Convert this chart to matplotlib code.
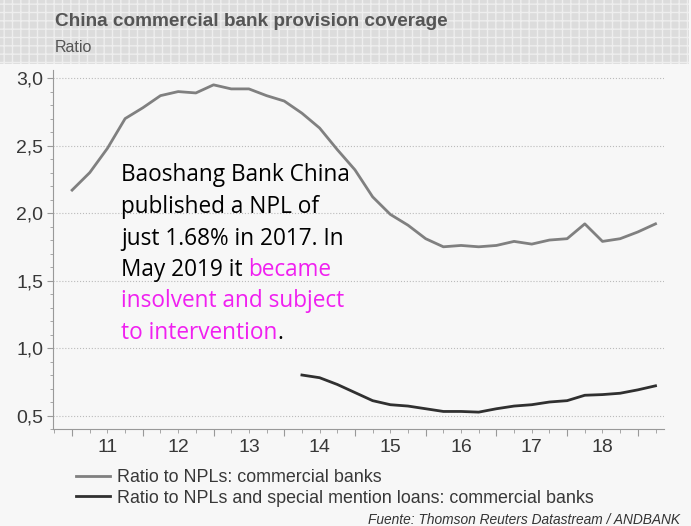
import matplotlib
matplotlib.use('Agg')
import matplotlib.pyplot as plt
from matplotlib.patches import Rectangle
from matplotlib.ticker import MultipleLocator
from matplotlib.transforms import offset_copy
import numpy as np

# Quarterly data, first point Q1 2011
start_year = 2011.0
npl_ratio = [2.17, 2.30, 2.48, 2.70, 2.78, 2.87, 2.90, 2.89, 2.95, 2.92,
             2.92, 2.87, 2.83, 2.74, 2.63, 2.47, 2.32, 2.12, 1.99, 1.91,
             1.81, 1.75, 1.76, 1.75, 1.76, 1.79, 1.77, 1.80, 1.81, 1.92,
             1.79, 1.81, 1.86, 1.92]
# second series starts at Q2 2014 (index 13)
sml_start = 13
npl_sml_ratio = [0.80, 0.78, 0.73, 0.67, 0.61, 0.58, 0.57, 0.55, 0.53, 0.53,
                 0.525, 0.55, 0.57, 0.58, 0.60, 0.61, 0.65, 0.655, 0.665,
                 0.69, 0.72]
year_labels = ['11', '12', '13', '14', '15', '16', '17', '18']
legend_labels = ['Ratio to NPLs: commercial banks',
                 'Ratio to NPLs and special mention loans: commercial banks']

x1 = start_year + 0.25 * np.arange(len(npl_ratio))
x2 = start_year + 0.25 * (sml_start + np.arange(len(npl_sml_ratio)))

bg = '#f7f7f7'
txt = '#383838'
plt.rcParams['font.family'] = ['Liberation Sans', 'DejaVu Sans']

fig = plt.figure(figsize=(6.91, 5.26), dpi=100, facecolor=bg)

# header band
fig.patches.append(Rectangle((0, 1 - 64 / 526), 689 / 691, 64 / 526,
                             transform=fig.transFigure, facecolor='#dcdcdc',
                             edgecolor='#eeeeee', hatch='++', linewidth=0,
                             zorder=0))
fig.text(55 / 691, 1 - 22 / 526, 'China commercial bank provision coverage',
         fontsize=13.7, fontweight='bold', color='#555555', va='center')
fig.text(55 / 691, 1 - 47 / 526, 'Ratio', fontsize=11.5, color='#555555',
         va='center')

ax = fig.add_axes([53 / 691, 1 - 429 / 526, (664 - 53) / 691, (429 - 70) / 526])
ax.set_facecolor(bg)

l1, = ax.plot(x1, npl_ratio, color='#808080', lw=2.0)
l2, = ax.plot(x2, npl_sml_ratio, color='#303030', lw=2.0)

ax.set_xlim(2010.73, 2019.37)
ax.set_ylim(0.40, 3.06)

for s in ['top', 'right']:
    ax.spines[s].set_visible(False)
for s in ['left', 'bottom']:
    ax.spines[s].set_color('#999999')

ax.yaxis.set_minor_locator(MultipleLocator(0.1))
ax.set_yticks([0.5, 1.0, 1.5, 2.0, 2.5, 3.0])
ax.set_yticklabels(['0,5', '1,0', '1,5', '2,0', '2,5', '3,0'])
ax.grid(axis='y', which='major', color='#bbbbbb', linestyle=':', lw=0.8)
ax.tick_params(axis='y', which='major', length=4, color='#999999',
               labelsize=14, labelcolor=txt, pad=3)
ax.tick_params(axis='y', which='minor', length=2, color='#999999')

ax.set_xticks(np.arange(2011, 2020))
ax.set_xticklabels([])
ax.xaxis.set_minor_locator(MultipleLocator(0.25))
ax.tick_params(axis='x', which='major', length=5, color='#999999')
ax.tick_params(axis='x', which='minor', length=3, color='#999999')
lab_tr = offset_copy(ax.get_xaxis_transform(), fig=fig, y=-19, units='dots')
for i, lab in enumerate(year_labels):
    ax.text(2011.5 + i, 0, lab, transform=lab_tr,
            ha='center', va='center', fontsize=14, color=txt)

# annotation
ann_font = dict(fontsize=16.3, family=['Open Sans', 'DejaVu Sans'])
mag = '#f020f0'
tx = 2011.69
ys = [2.24, 2.003, 1.766, 1.534, 1.302, 1.065]
lines = ['Baoshang Bank China', 'published a NPL of',
         'just 1.68% in 2017. In']
for y, s in zip(ys[:3], lines):
    ax.text(tx, y, s, color='black', va='baseline', **ann_font)
t = ax.text(tx, ys[3], 'May 2019 it ', color='black', va='baseline', **ann_font)
ax.annotate('became', xy=(1, 0), xycoords=t, va='bottom', color=mag,
            **ann_font)
ax.text(tx, ys[4], 'insolvent and subject', color=mag, va='baseline',
        **ann_font)
t = ax.text(tx, ys[5], 'to intervention', color=mag, va='baseline', **ann_font)
ax.annotate('.', xy=(1, 0), xycoords=t, va='bottom', color='black',
            **ann_font)

fig.legend([l1, l2], legend_labels, loc='upper left',
           bbox_to_anchor=(67 / 691, 1 - 460 / 526), frameon=False,
           fontsize=12.9, labelcolor=txt, handlelength=1.9, handletextpad=0.4,
           labelspacing=0.2, borderpad=0)

fig.text(680 / 691, 1 - 520 / 526,
         'Fuente: Thomson Reuters Datastream / ANDBANK', fontsize=9.9,
         style='italic', color='#333333', ha='right', va='center')

fig.savefig('out.png', dpi=100, facecolor=bg)
